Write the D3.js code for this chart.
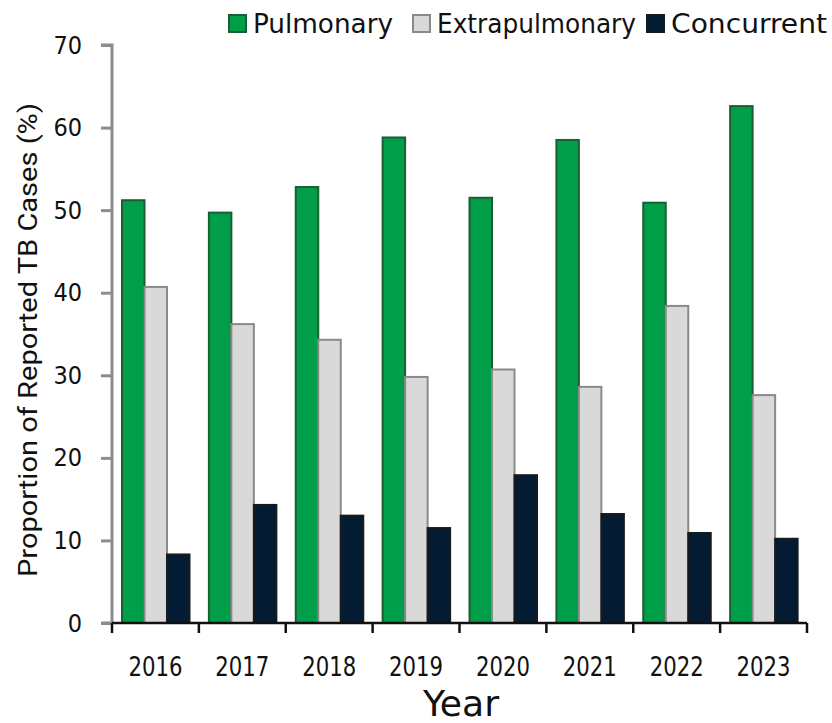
<!DOCTYPE html>
<html>
<head>
<meta charset="utf-8">
<script src="https://cdn.jsdelivr.net/npm/d3@7"></script>
<style>
  body { margin: 0; background: #fff; }
</style>
</head>
<body>
<div id="chart"></div>
<script>
var years = ["2016", "2017", "2018", "2019", "2020", "2021", "2022", "2023"];
var seriesNames = ["Pulmonary", "Extrapulmonary", "Concurrent"];
var pulmonary = [51.2, 49.7, 52.8, 58.8, 51.5, 58.5, 50.9, 62.6];
var extrapulmonary = [40.7, 36.2, 34.3, 29.8, 30.7, 28.6, 38.4, 27.6];
var concurrent = [8.3, 14.3, 13.0, 11.5, 17.9, 13.2, 10.9, 10.2];
var yTicks = [0, 10, 20, 30, 40, 50, 60, 70];

var fills = ["#009e49", "#d9d9d9", "#031b33"];
var strokes = ["#1b5e31", "#8a8a8a", "#1a1a1a"];
var condFont = "'DejaVu Sans Condensed', 'Liberation Sans Narrow', sans-serif";

var w = 832, h = 723;
var mLeft = 112, mRight = 807, mTop = 45, mBottom = 623;

var svg = d3.select("#chart").append("svg")
  .attr("width", w)
  .attr("height", h);

var xScale = d3.scaleBand()
  .domain(years)
  .range([mLeft, mRight])
  .paddingInner(0)
  .paddingOuter(0);

var xInner = d3.scaleBand()
  .domain(seriesNames)
  .range([10, 10 + 3 * 22.5])
  .padding(0);

var yScale = d3.scaleLinear()
  .domain([0, 70])
  .range([mBottom, mTop]);

// rows per year
var rows = years.map(function(y, i) {
  return { year: y, values: [pulmonary[i], extrapulmonary[i], concurrent[i]] };
});

var groups = svg.selectAll("g.year")
  .data(rows)
  .enter()
  .append("g")
  .attr("class", "year")
  .attr("transform", function(d) { return "translate(" + xScale(d.year) + ",0)"; });

groups.selectAll("rect")
  .data(function(d) { return d.values.map(function(v, k) { return { k: k, v: v }; }); })
  .enter()
  .append("rect")
  .attr("x", function(d) { return xInner(seriesNames[d.k]); })
  .attr("y", function(d) { return yScale(d.v); })
  .attr("width", xInner.bandwidth())
  .attr("height", function(d) { return yScale(0) - yScale(d.v); })
  .attr("fill", function(d) { return fills[d.k]; })
  .attr("stroke", function(d) { return strokes[d.k]; })
  .attr("stroke-width", 2);

// y axis
var yAxis = d3.axisLeft(yScale)
  .tickValues(yTicks)
  .tickSize(11)
  .tickPadding(19)
  .tickFormat(d3.format("d"));

var gy = svg.append("g")
  .attr("transform", "translate(" + mLeft + ",0)")
  .call(yAxis);
gy.select(".domain").attr("stroke", "#8c8c8c").attr("stroke-width", 3)
  .attr("d", "M-11," + mTop + "H0V" + mBottom + "H-11");
gy.selectAll(".tick line").attr("stroke", "#8c8c8c").attr("stroke-width", 3);
gy.selectAll(".tick text")
  .attr("font-size", "25px")
  .attr("fill", "#111")
  .attr("font-family", condFont);

// x axis
var xAxis = d3.axisBottom(xScale).tickSize(0);
var gx = svg.append("g")
  .attr("transform", "translate(0," + mBottom + ")")
  .call(xAxis);
gx.select(".domain").remove();
gx.append("line")
  .attr("x1", mLeft).attr("x2", mRight)
  .attr("y1", 0).attr("y2", 0)
  .attr("stroke", "#111").attr("stroke-width", 2.5);
gx.selectAll("line.sep")
  .data(years.concat(["end"]))
  .enter()
  .append("line")
  .attr("class", "sep")
  .attr("x1", function(d, i) { return mLeft + i * xScale.step(); })
  .attr("x2", function(d, i) { return mLeft + i * xScale.step(); })
  .attr("y1", 0).attr("y2", 10)
  .attr("stroke", "#111").attr("stroke-width", 2.5);
gx.selectAll(".tick text")
  .attr("y", 53)
  .attr("dy", 0)
  .attr("font-size", "26px")
  .attr("fill", "#111")
  .attr("font-family", condFont)
  .attr("textLength", 54)
  .attr("lengthAdjust", "spacingAndGlyphs");

// axis titles
svg.append("text")
  .attr("x", 461)
  .attr("y", 716)
  .attr("text-anchor", "middle")
  .attr("font-family", condFont)
  .attr("font-size", "36px")
  .attr("fill", "#111")
  .attr("textLength", 76)
  .attr("lengthAdjust", "spacingAndGlyphs")
  .text("Year");

svg.append("text")
  .attr("transform", "translate(37,340) rotate(-90)")
  .attr("text-anchor", "middle")
  .attr("font-family", "Roboto, sans-serif")
  .attr("font-size", "25px")
  .attr("fill", "#111")
  .attr("textLength", 474)
  .attr("lengthAdjust", "spacingAndGlyphs")
  .text("Proportion of Reported TB Cases (%)");

// legend
var legendX = [229, 413, 647];
var legend = svg.selectAll("g.legend")
  .data(seriesNames)
  .enter()
  .append("g")
  .attr("class", "legend")
  .attr("transform", function(d, i) { return "translate(" + legendX[i] + ",15)"; });
legend.append("rect")
  .attr("width", 17).attr("height", 17)
  .attr("fill", function(d, i) { return fills[i]; })
  .attr("stroke", function(d, i) { return strokes[i]; })
  .attr("stroke-width", 2);
legend.append("text")
  .attr("x", 24)
  .attr("y", 18)
  .attr("font-family", condFont)
  .attr("font-size", "26px")
  .attr("fill", "#111")
  .attr("textLength", function(d, i) { return [140, 199, 156][i]; })
  .attr("lengthAdjust", "spacingAndGlyphs")
  .text(function(d) { return d; });
</script>
</body>
</html>
